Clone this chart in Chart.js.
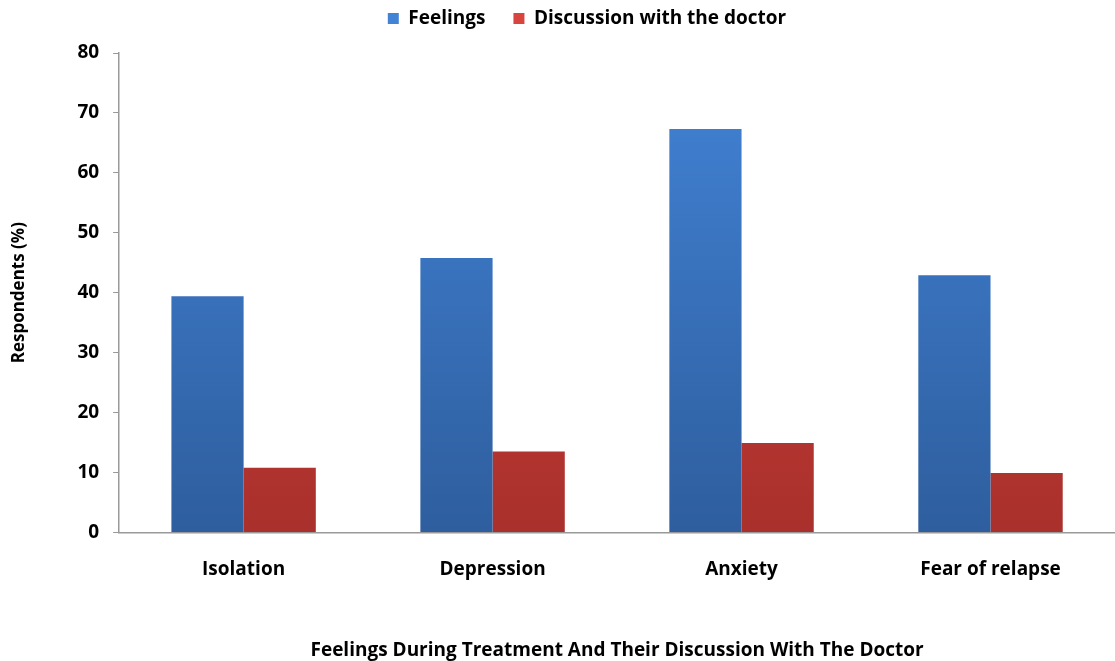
<!DOCTYPE html>
<html>
<head>
<meta charset="utf-8">
<script src="https://cdn.jsdelivr.net/npm/chart.js@4/dist/chart.umd.min.js"></script>
<style>
  html, body { margin: 0; padding: 0; background: #fff; }
  #wrap { width: 1115px; height: 661px; }
</style>
</head>
<body>
<div id="wrap"><canvas id="chart"></canvas></div>
<script>
var categories = ["Isolation", "Depression", "Anxiety", "Fear of relapse"];
var feelings = [39.4, 45.8, 67.3, 42.9];
var discussion = [10.8, 13.5, 14.9, 9.9];
var yTicks = [0, 10, 20, 30, 40, 50, 60, 70, 80];

var fontFamily = "'Liberation Sans Narrow', 'Open Sans', sans-serif";

function grad(top, bottom) {
    return function (ctx) {
        var area = ctx.chart.chartArea;
        if (!area) return top;
        var g = ctx.chart.ctx.createLinearGradient(0, area.top, 0, area.bottom);
        g.addColorStop(0, top);
        g.addColorStop(1, bottom);
        return g;
    };
}

// fixed legend height so the plot starts lower, and legend nudged right
var legendTweak = {
    id: "legendTweak",
    beforeInit: function (chart) {
        var fit = chart.legend.fit;
        chart.legend.fit = function () {
            fit.bind(chart.legend)();
            this.height = 72;
        };
    },
    afterLayout: function (chart) {
        chart.legend.left += 50;
    }
};

new Chart(document.getElementById("chart"), {
    type: "bar",
    data: {
        labels: categories,
        datasets: [
            {
                label: "Feelings",
                data: feelings,
                backgroundColor: grad("#4283d6", "#2e5e9e"),
                categoryPercentage: 0.58,
                barPercentage: 1.0
            },
            {
                label: "Discussion with the doctor",
                data: discussion,
                backgroundColor: grad("#d8443e", "#a9302c"),
                categoryPercentage: 0.58,
                barPercentage: 1.0
            }
        ]
    },
    plugins: [legendTweak],
    options: {
        responsive: true,
        maintainAspectRatio: false,
        animation: false,
        layout: { padding: { top: -19, right: 0, left: 9, bottom: -1 } },
        plugins: {
            legend: {
                position: "top",
                labels: {
                    boxWidth: 11,
                    boxHeight: 11,
                    padding: 28,
                    color: "#000",
                    font: { family: fontFamily, size: 19, weight: "bold" }
                }
            },
            tooltip: { enabled: false }
        },
        scales: {
            x: {
                grid: { display: false },
                border: { display: true, color: "#999", width: 1.5 },
                ticks: {
                    color: "#000",
                    padding: 18,
                    font: { family: fontFamily, size: 19, weight: "bold" }
                },
                title: {
                    display: true,
                    text: "Feelings During Treatment And Their Discussion With The Doctor",
                    color: "#000",
                    padding: { top: 40, bottom: 0 },
                    font: { family: fontFamily, size: 19, weight: "bold" }
                }
            },
            y: {
                min: 0,
                max: 80,
                afterBuildTicks: function (axis) {
                    axis.ticks = yTicks.map(function (v) { return { value: v }; });
                },
                grid: {
                    display: true,
                    drawOnChartArea: false,
                    drawTicks: true,
                    tickLength: 6,
                    color: "#999"
                },
                border: { display: true, color: "#999", width: 1.5 },
                ticks: {
                    color: "#000",
                    padding: 14,
                    font: { family: fontFamily, size: 19, weight: "bold" }
                },
                title: {
                    display: true,
                    text: "Respondents (%)",
                    color: "#000",
                    padding: { top: 0, bottom: 34 },
                    font: { family: fontFamily, size: 17, weight: "bold" }
                }
            }
        }
    }
});
</script>
</body>
</html>
